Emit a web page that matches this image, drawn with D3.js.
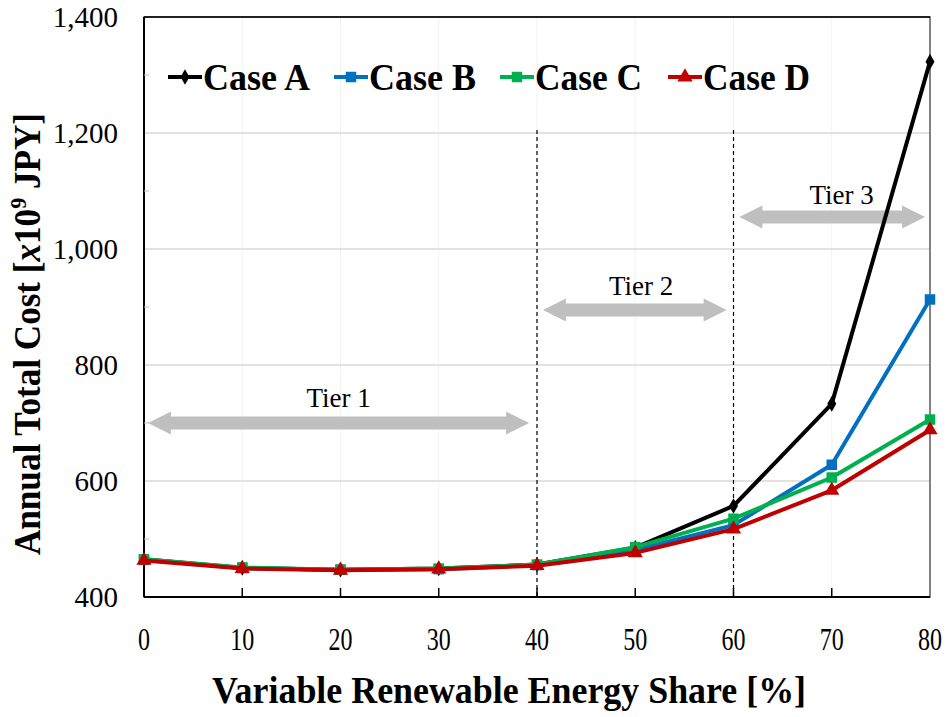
<!DOCTYPE html>
<html>
<head>
<meta charset="utf-8">
<script src="https://cdn.jsdelivr.net/npm/d3@7"></script>
<style>
  body { margin: 0; background: #fff; }
  svg { display: block; }
</style>
</head>
<body>
<svg id="chart" width="947" height="717"></svg>
<script>
// VRE share (x) and annual total cost per case
const shares = [0, 10, 20, 30, 40, 50, 60, 70, 80];
const caseA = [465, 450, 447, 449, 456, 485, 557, 733, 1323];
const caseB = [464, 450, 447, 448, 455, 481, 524, 628, 913];
const caseC = [465, 451, 447, 449, 456, 486, 535, 606, 706];
const caseD = [463, 449, 446, 448, 454, 476, 517, 584, 688];
const yTicks = [400, 600, 800, 1000, 1200, 1400];
const yMinorTicks = [500, 700, 900, 1100, 1300];
const xTicks = [0, 10, 20, 30, 40, 50, 60, 70, 80];
const tierBounds = [40, 60];
const tiers = [
  { label: "Tier 1", x0: 0.4, x1: 39.2, y: 700, lx: 19.8, ly: 728 },
  { label: "Tier 2", x0: 40.6, x1: 59.3, y: 895, lx: 50.6, ly: 920 },
  { label: "Tier 3", x0: 60.6, x1: 79.5, y: 1055, lx: 71.0, ly: 1078 }
];

const series = [
  { name: "Case A", values: caseA, color: "#000000", symbol: d3.symbolDiamond, size: 70 },
  { name: "Case B", values: caseB, color: "#0070c0", symbol: d3.symbolSquare, size: 110 },
  { name: "Case C", values: caseC, color: "#00b050", symbol: d3.symbolSquare, size: 110 },
  { name: "Case D", values: caseD, color: "#c00000", symbol: d3.symbolTriangle, size: 100 }
];

const margin = { top: 17, right: 17, bottom: 120, left: 144 };
const width = 947 - margin.left - margin.right;
const height = 717 - margin.top - margin.bottom;
const serif = '"Liberation Serif"';

const svg = d3.select("#chart");
const g = svg.append("g").attr("transform", `translate(${margin.left},${margin.top})`);

const x = d3.scaleLinear().domain([0, 80]).range([0, width]);
const y = d3.scaleLinear().domain([400, 1400]).range([height, 0]);

// grid
g.append("g").selectAll("line")
  .data(xTicks.slice(1, -1))
  .join("line")
  .attr("x1", d => x(d)).attr("x2", d => x(d))
  .attr("y1", 0).attr("y2", height)
  .attr("stroke", "#f2f2f2").attr("stroke-width", 1);

g.append("g").selectAll("line")
  .data(yTicks.slice(1, -1))
  .join("line")
  .attr("x1", 0).attr("x2", width)
  .attr("y1", d => y(d)).attr("y2", d => y(d))
  .attr("stroke", "#d9d9d9").attr("stroke-width", 1.5);

// frame
g.append("rect")
  .attr("width", width).attr("height", height)
  .attr("fill", "none").attr("stroke", "#595959").attr("stroke-width", 1.5);

// tier boundaries
g.append("g").selectAll("line")
  .data(tierBounds)
  .join("line")
  .attr("x1", d => x(d)).attr("x2", d => x(d))
  .attr("y1", y(1205)).attr("y2", height)
  .attr("stroke", "#000").attr("stroke-width", 1.2)
  .attr("stroke-dasharray", "4,3");

// tier arrows
function arrowPath(x0, x1, yc) {
  const bh = 6.5, hh = 11.5, hl = 23;
  return `M${x0},${yc} L${x0 + hl},${yc - hh} L${x0 + hl},${yc - bh} L${x1 - hl},${yc - bh} ` +
    `L${x1 - hl},${yc - hh} L${x1},${yc} L${x1 - hl},${yc + hh} L${x1 - hl},${yc + bh} ` +
    `L${x0 + hl},${yc + bh} L${x0 + hl},${yc + hh} Z`;
}
g.append("g").selectAll("path")
  .data(tiers)
  .join("path")
  .attr("d", d => arrowPath(x(d.x0), x(d.x1), y(d.y)))
  .attr("fill", "#bfbfbf");

g.append("g").selectAll("text")
  .data(tiers)
  .join("text")
  .attr("x", d => x(d.lx)).attr("y", d => y(d.ly))
  .attr("text-anchor", "middle")
  .style("font-family", serif).style("font-size", "27px")
  .text(d => d.label);

// axes lines + ticks
g.append("line").attr("x1", 0).attr("x2", width).attr("y1", height).attr("y2", height)
  .attr("stroke", "#000").attr("stroke-width", 2);
g.append("line").attr("x1", 0).attr("x2", 0).attr("y1", 0).attr("y2", height)
  .attr("stroke", "#000").attr("stroke-width", 2);
g.append("line").attr("x1", 0).attr("x2", width).attr("y1", 0).attr("y2", 0)
  .attr("stroke", "#000").attr("stroke-width", 1.5);

g.append("g").selectAll("line")
  .data(xTicks.slice(1, -1))
  .join("line")
  .attr("x1", d => x(d)).attr("x2", d => x(d))
  .attr("y1", height).attr("y2", height - 9)
  .attr("stroke", "#000").attr("stroke-width", 1.5);

g.append("g").selectAll("line")
  .data(yMinorTicks)
  .join("line")
  .attr("x1", 0).attr("x2", 5)
  .attr("y1", d => y(d)).attr("y2", d => y(d))
  .attr("stroke", "#bfbfbf").attr("stroke-width", 1);

// x tick labels are narrow and tall in the original
g.append("g").selectAll("text")
  .data(xTicks)
  .join("text")
  .attr("x", d => x(d) - String(d).length * 6).attr("y", height + 53)
  .attr("textLength", d => String(d).length * 12).attr("lengthAdjust", "spacingAndGlyphs")
  .style("font-family", serif).style("font-size", "32px")
  .text(d => d);

g.append("g").selectAll("text")
  .data(yTicks)
  .join("text")
  .attr("x", -26).attr("y", d => y(d) + 10)
  .attr("text-anchor", "end")
  .style("font-family", serif).style("font-size", "29px")
  .text(d => d3.format(",")(d));

// series
const line = d3.line().x((d, i) => x(shares[i])).y(d => y(d));

series.forEach(s => {
  const sg = g.append("g");
  sg.append("path")
    .datum(s.values)
    .attr("d", line)
    .attr("fill", "none")
    .attr("stroke", s.color)
    .attr("stroke-width", 4)
    .attr("stroke-linejoin", "round");
  sg.selectAll("path.m")
    .data(s.values)
    .join("path")
    .attr("class", "m")
    .attr("transform", (d, i) => `translate(${x(shares[i])},${y(d)})`)
    .attr("d", d3.symbol().type(s.symbol).size(s.size))
    .attr("fill", s.color);
});

// legend
const legendX = [168, 334, 500, 668];
const legend = svg.append("g");
series.forEach((s, i) => {
  const lg = legend.append("g").attr("transform", `translate(${legendX[i]},77)`);
  lg.append("line").attr("x1", 0).attr("x2", 34).attr("stroke", s.color).attr("stroke-width", 4);
  lg.append("path").attr("transform", "translate(17,0)")
    .attr("d", d3.symbol().type(s.symbol).size(s.size)).attr("fill", s.color);
  lg.append("text")
    .attr("x", 35).attr("y", 13)
    .attr("textLength", 107).attr("lengthAdjust", "spacingAndGlyphs")
    .style("font-family", serif).style("font-size", "38px").style("font-weight", "bold")
    .text(s.name);
});

// axis titles
svg.append("text")
  .attr("x", 212).attr("y", 703)
  .attr("textLength", 594).attr("lengthAdjust", "spacingAndGlyphs")
  .style("font-family", serif).style("font-size", "38px").style("font-weight", "bold")
  .text("Variable Renewable Energy Share  [%]");

const yt = svg.append("text")
  .attr("transform", "translate(40,555) rotate(-90)")
  .attr("x", 0).attr("y", 0)
  .attr("textLength", 442).attr("lengthAdjust", "spacingAndGlyphs")
  .style("font-family", serif).style("font-size", "38px").style("font-weight", "bold");
yt.append("tspan").text("Annual Total Cost  [");
yt.append("tspan").style("font-style", "italic").text("x");
yt.append("tspan").text("10");
yt.append("tspan").attr("dy", -14).style("font-size", "24px").text("9");
yt.append("tspan").attr("dy", 14).text(" JPY]");
</script>
</body>
</html>
